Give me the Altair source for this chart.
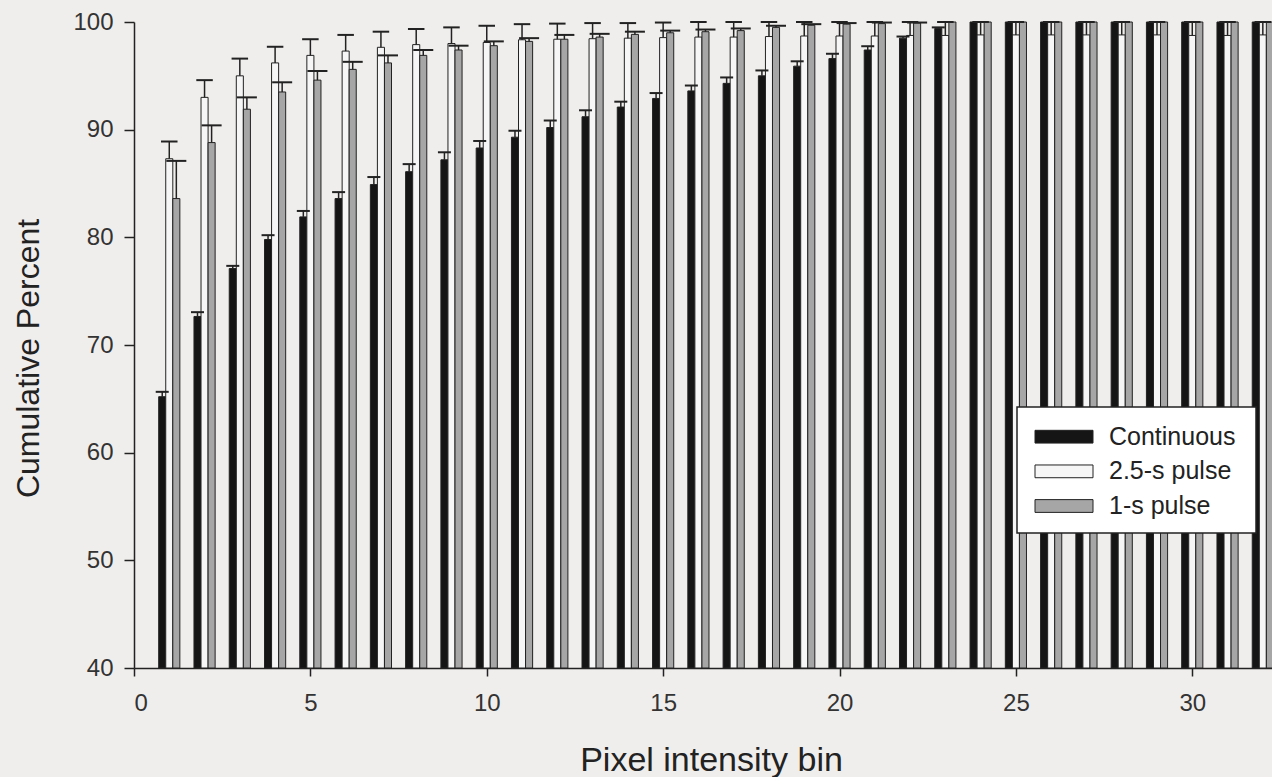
import altair as alt
import pandas as pd

bins = list(range(1, 33))
series = ["Continuous", "2.5-s pulse", "1-s pulse"]

cont = [65.2, 72.65, 77.1, 79.8, 81.9, 83.6, 84.9, 86.1, 87.2, 88.3, 89.3, 90.2,
        91.2, 92.1, 92.9, 93.6, 94.3, 95.0, 95.9, 96.6, 97.4, 98.5, 99.4,
        100, 100, 100, 100, 100, 100, 100, 100, 100]
cont_err = [0.45, 0.4, 0.25, 0.4, 0.55, 0.6, 0.7, 0.7, 0.7, 0.65, 0.6, 0.65,
            0.6, 0.5, 0.5, 0.5, 0.55, 0.5, 0.45, 0.45, 0.35, 0.15, 0.1,
            0, 0, 0, 0, 0, 0, 0, 0, 0]

p25 = [87.3, 93.0, 95.0, 96.2, 96.9, 97.3, 97.65, 97.9, 98.0, 98.1, 98.35, 98.4,
       98.45, 98.5, 98.55, 98.6, 98.6, 98.65, 98.7, 98.7, 98.7, 98.75, 98.75,
       98.8, 98.8, 98.8, 98.8, 98.8, 98.8, 98.75, 98.75, 98.8]
p25_err = [1.6, 1.6, 1.6, 1.5, 1.5, 1.5, 1.45, 1.45, 1.5, 1.55, 1.45, 1.45,
           1.45, 1.4, 1.4, 1.4, 1.4, 1.35, 1.3, 1.3, 1.3, 1.25, 1.25,
           1.2, 1.2, 1.2, 1.2, 1.2, 1.2, 1.25, 1.25, 1.2]

p1 = [83.6, 88.8, 91.9, 93.5, 94.6, 95.6, 96.2, 96.9, 97.4, 97.8, 98.2, 98.4,
      98.6, 98.85, 99.0, 99.1, 99.2, 99.5, 99.7, 99.8, 99.85, 99.9, 100,
      100, 100, 100, 100, 100, 100, 100, 100, 100]
p1_err = [3.5, 1.6, 1.1, 0.9, 0.85, 0.7, 0.7, 0.5, 0.4, 0.4, 0.3, 0.4,
          0.3, 0.25, 0.2, 0.2, 0.2, 0.15, 0.1, 0.1, 0.1, 0.05, 0,
          0, 0, 0, 0, 0, 0, 0, 0, 0]

x_ticks = [0, 5, 10, 15, 20, 25, 30]
y_ticks = [40, 50, 60, 70, 80, 90, 100]

# style
offsets = {"Continuous": -0.2, "2.5-s pulse": 0.0, "1-s pulse": 0.2}
half_w = 0.1
fills = ["#151515", "#f6f6f6", "#a6a6a6"]
cap_sizes = [13, 20, 15]
BG = "#f0eeec"
INK = "#222222"
FONT = "Liberation Sans"

# legend placement (pixels inside the plot area)
LEG_X0, LEG_X1, LEG_Y0, LEG_Y1 = 883, 1122, 385, 511
LEG_SYM_X, LEG_TXT_X = 930, 975
LEG_ROWS = [414.7, 484]

rows = []
for name, vals, errs in [("Continuous", cont, cont_err),
                         ("2.5-s pulse", p25, p25_err),
                         ("1-s pulse", p1, p1_err)]:
    for b, v, e in zip(bins, vals, errs):
        pos = b + offsets[name]
        rows.append({"bin": b, "series": name, "value": v, "err": e,
                     "pos": pos, "lo": pos - half_w, "hi": pos + half_w,
                     "top": v + e})
df = pd.DataFrame(rows)
leg_df = pd.DataFrame({"series": series})

xscale = alt.Scale(domain=[0, 32.26], nice=False, zero=False)
yscale = alt.Scale(domain=[40, 100], nice=False, zero=False)
cscale = alt.Scale(domain=series, range=fills)

base = alt.Chart(df)

bars = base.mark_bar(stroke=INK, strokeWidth=1).encode(
    x=alt.X("lo:Q", scale=xscale,
            axis=alt.Axis(values=x_ticks, title="Pixel intensity bin",
                          labelFontSize=24, labelFont=FONT,
                          labelColor="#333333", tickSize=8, tickColor=INK,
                          domainColor=INK, labelPadding=15, grid=False,
                          titleFontSize=34, titleFont=FONT,
                          titleFontWeight="normal", titleColor="#222222",
                          titleX=577, titleY=102, titleBaseline="alphabetic")),
    x2="hi:Q",
    y=alt.Y("value:Q", scale=yscale,
            axis=alt.Axis(values=y_ticks, title="Cumulative Percent",
                          labelFontSize=24, labelFont=FONT,
                          labelColor="#333333", tickSize=10, tickColor=INK,
                          domainColor=INK, labelPadding=11, grid=False,
                          titleFontSize=32, titleFont=FONT,
                          titleFontWeight="normal", titleColor="#222222",
                          titleAngle=-90, titleX=-106, titleY=336,
                          titleBaseline="middle", titleAlign="center")),
    y2=alt.datum(40),
    color=alt.Color("series:N", scale=cscale, legend=None),
)

err_lines = base.transform_filter("datum.err > 0").mark_rule(
    color=INK, strokeWidth=1.5).encode(
    x="pos:Q", y="value:Q", y2="top:Q")

caps = base.transform_filter("datum.err > 0").mark_tick(
    orient="horizontal", color=INK, thickness=2, opacity=1).encode(
    x="pos:Q", y="top:Q",
    size=alt.Size("series:N", scale=alt.Scale(domain=series, range=cap_sizes),
                  legend=None))

data_layers = alt.layer(bars, err_lines, caps)

# manual legend
leg_box = alt.Chart(pd.DataFrame({"k": [0]})).mark_rect(
    fill="#ffffff", stroke=INK, strokeWidth=1.5).encode(
    x=alt.value(LEG_X0), x2=alt.value(LEG_X1),
    y=alt.value(LEG_Y0), y2=alt.value(LEG_Y1))

leg_y = alt.Y("series:N",
              scale=alt.Scale(type="point", domain=series, range=LEG_ROWS,
                              padding=0),
              axis=None)

leg_sym = alt.Chart(leg_df).mark_point(
    shape="M-1,-0.22H1V0.22H-1Z", size=3364, filled=True, opacity=1,
    stroke=INK, strokeWidth=1).encode(
    x=alt.value(LEG_SYM_X), y=leg_y,
    color=alt.Color("series:N", scale=cscale, legend=None))

leg_txt = alt.Chart(leg_df).mark_text(
    align="left", baseline="middle", fontSize=25, font=FONT,
    color=INK).encode(
    x=alt.value(LEG_TXT_X), y=leg_y, text="series:N")

legend_layers = alt.layer(leg_box, leg_sym, leg_txt)

chart = alt.layer(data_layers, legend_layers).resolve_scale(
    y="independent"
).properties(
    width=1138, height=646,
    autosize=alt.AutoSizeParams(type="none"),
    padding={"left": 134, "top": 22, "right": 0, "bottom": 109},
    background=BG,
).configure_view(stroke=None, fill=BG).configure_axis(domainWidth=1.5, tickWidth=1.5)

chart.save("out.html", embed_options={"renderer": "svg", "actions": False})
